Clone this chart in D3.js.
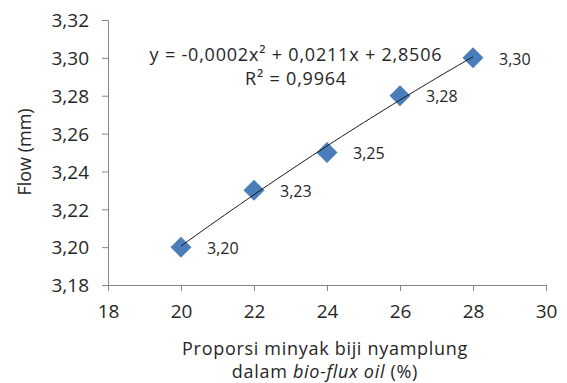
<!DOCTYPE html>
<html>
<head>
<meta charset="utf-8">
<script src="https://cdn.jsdelivr.net/npm/d3@7"></script>
<style>
  html, body { margin: 0; padding: 0; background: #fff; }
  svg { display: block; }
  text { font-family: "Open Sans", "DejaVu Sans", sans-serif; fill: #262626; }
</style>
</head>
<body>
<svg id="chart" width="567" height="383"></svg>
<script>
// Flow against the share of nyamplung seed oil in the bio-flux oil
const proportion = [20, 22, 24, 26, 28];
const flow = [3.20, 3.23, 3.25, 3.28, 3.30];

const xTicks = [18, 20, 22, 24, 26, 28, 30];
const yTicks = [3.18, 3.20, 3.22, 3.24, 3.26, 3.28, 3.30, 3.32];

const equationText = "y = -0,0002x\u00B2 + 0,0211x + 2,8506";
const r2Text = "R\u00B2 = 0,9964";
const xTitleLine1 = "Proporsi minyak biji nyamplung";
const yTitle = "Flow (mm)";

const svg = d3.select("#chart");
const axisColor = "#868686";
const markerColor = "#4A7EBB";

const comma = d3.formatLocale({ decimal: ",", thousands: ".", grouping: [3], currency: ["", ""] });
const fmt2 = comma.format(".2f");

const x = d3.scaleLinear().domain([18, 30]).range([108, 546]);
const y = d3.scaleLinear().domain([3.18, 3.32]).range([285, 20]);

// Y axis
const gy = svg.append("g")
  .attr("transform", `translate(${x.range()[0]},0)`)
  .call(d3.axisLeft(y).tickValues(yTicks).tickFormat(fmt2).tickSizeOuter(0).tickSize(6).tickPadding(13));
gy.select(".domain").attr("stroke", axisColor);
gy.selectAll(".tick line").attr("stroke", axisColor);
gy.selectAll(".tick text")
  .style("font-size", "19px")
  .attr("fill", "#262626")
  .attr("dy", "0.36em");

// X axis
const gx = svg.append("g")
  .attr("transform", `translate(0,${y.range()[0]})`)
  .call(d3.axisBottom(x).tickValues(xTicks).tickFormat(d3.format("d")).tickSizeOuter(0).tickSize(6));
gx.select(".domain").attr("stroke", axisColor);
gx.selectAll(".tick line").attr("stroke", axisColor);
gx.selectAll(".tick text")
  .style("font-size", "19px")
  .attr("fill", "#262626")
  .attr("y", 0)
  .attr("dy", 33);

// Second-order polynomial trendline, least squares on the data points
function quadFit(xs, ys) {
  const n = xs.length;
  let s = [0, 0, 0, 0, 0], t = [0, 0, 0];
  for (let i = 0; i < n; i++) {
    let p = 1;
    for (let k = 0; k <= 4; k++) { s[k] += p; if (k <= 2) t[k] += p * ys[i]; p *= xs[i]; }
  }
  const A = [[s[0], s[1], s[2], t[0]], [s[1], s[2], s[3], t[1]], [s[2], s[3], s[4], t[2]]];
  for (let c = 0; c < 3; c++) {
    for (let r = c + 1; r < 3; r++) {
      const f = A[r][c] / A[c][c];
      for (let k = c; k < 4; k++) A[r][k] -= f * A[c][k];
    }
  }
  const b = [0, 0, 0];
  for (let r = 2; r >= 0; r--) {
    let v = A[r][3];
    for (let k = r + 1; k < 3; k++) v -= A[r][k] * b[k];
    b[r] = v / A[r][r];
  }
  return xv => b[0] + b[1] * xv + b[2] * xv * xv;
}
const trend = quadFit(proportion, flow);
const xs = d3.range(0, 41).map(i => proportion[0] + i * (proportion[proportion.length - 1] - proportion[0]) / 40);
const trendLine = d3.line().x(d => x(d)).y(d => y(trend(d)));

// Markers
svg.append("g").selectAll("path")
  .data(proportion)
  .join("path")
  .attr("d", d3.symbol(d3.symbolSquare, 220))
  .attr("fill", markerColor)
  .attr("transform", (d, i) => `translate(${x(d)},${y(flow[i])}) rotate(45)`);

// Trendline drawn over the markers
svg.append("path")
  .datum(xs)
  .attr("fill", "none")
  .attr("stroke", "#1a1a1a")
  .attr("stroke-width", 1)
  .attr("d", trendLine);

// Data labels
svg.append("g").selectAll("text")
  .data(proportion)
  .join("text")
  .attr("x", d => x(d) + 26)
  .attr("y", (d, i) => y(flow[i]) + 1)
  .attr("dy", "0.36em")
  .style("font-size", "16px")
  .text((d, i) => fmt2(flow[i]));

// Trendline equation
const eq = svg.append("g")
  .attr("text-anchor", "middle")
  .style("font-size", "18px")
  .style("letter-spacing", "0.8px");
eq.append("text").attr("x", 296).attr("y", 61).text(equationText);
eq.append("text").attr("x", 296).attr("y", 85).text(r2Text);

// Axis titles
svg.append("text")
  .attr("transform", "translate(31,152) rotate(-90)")
  .attr("text-anchor", "middle")
  .style("font-size", "18px")
  .text(yTitle);

const xt = svg.append("g")
  .attr("text-anchor", "middle")
  .style("font-size", "18px")
  .style("letter-spacing", "0.7px");
xt.append("text").attr("x", 325).attr("y", 355).text(xTitleLine1);
const l2 = xt.append("text").attr("x", 325).attr("y", 378);
l2.append("tspan").text("dalam ");
l2.append("tspan").attr("font-style", "italic").text("bio-flux oil");
l2.append("tspan").text(" (%)");
</script>
</body>
</html>
